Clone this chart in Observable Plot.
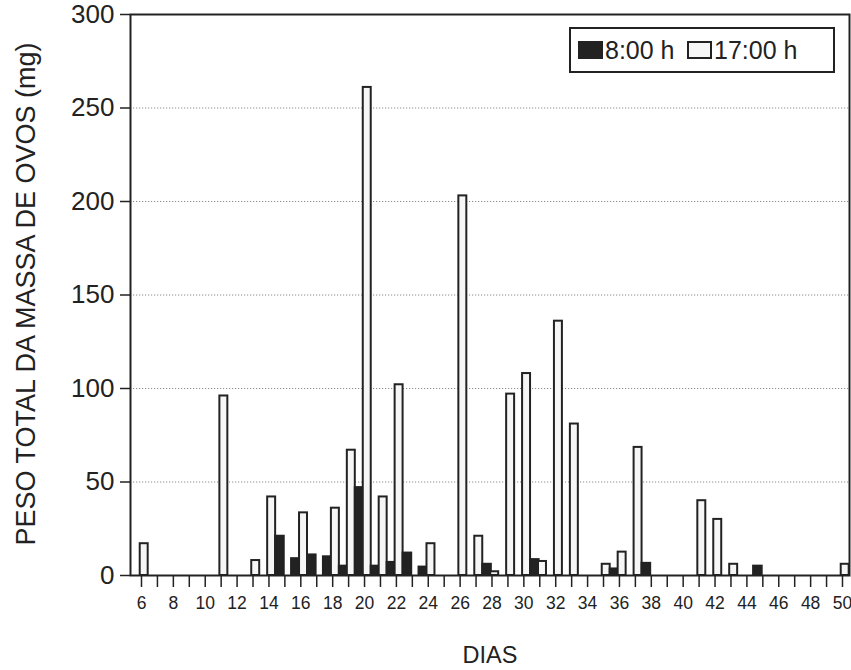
<!DOCTYPE html>
<html>
<head>
<meta charset="utf-8">
<script src="https://cdn.jsdelivr.net/npm/d3@7"></script>
<script src="https://cdn.jsdelivr.net/npm/@observablehq/plot@0.6"></script>
<style>
  html, body { margin: 0; padding: 0; background: #fff; }
  #wrap { position: relative; width: 851px; height: 670px; font-family: "Liberation Sans", Arial, sans-serif; color: #222; }
  #legend { position: absolute; left: 569px; top: 27px; width: 266px; height: 46px; border: 2px solid #222; box-sizing: border-box; background: #fff; }
  .sw { position: absolute; top: 12px; width: 25px; height: 18px; box-sizing: border-box; border: 2px solid #222; }
  .lt { position: absolute; top: 9px; font-size: 25px; line-height: 24px; white-space: nowrap; }
</style>
</head>
<body>
<div id="wrap">
  <div id="chart"></div>
  <div id="legend">
    <div class="sw" style="left:7px;background:#222;"></div>
    <div class="lt" style="left:34px;">8:00 h</div>
    <div class="sw" style="left:116px;background:#f6f6f6;"></div>
    <div class="lt" style="left:143px;">17:00 h</div>
  </div>
</div>
<script>
const days = [6,7,8,9,10,11,12,13,14,15,16,17,18,19,20,21,22,23,24,25,26,27,28,29,30,31,32,33,34,35,36,37,38,39,40,41,42,43,44,45,46,47,48,49,50];
const morning = [0,0,0,0,0,0,0,0,0,21,9,11,10,5,47,5,7,12,4.5,0,0,0,6,0,0,8.5,0,0,0,0,3.5,0,6.5,0,0,0,0,0,0,5,0,0,0,0,0];
const evening = [17,0,0,0,0,96,0,8,42,0,33.5,0,36,67,261,42,102,0,17,0,203,21,2,97,108,7.5,136,81,0,6,12.5,68.5,0,0,0,40,30,6,0,0,0,0,0,0,6];
const yTicks = [0,50,100,150,200,250,300];
const gridTicks = [50,100,150,200,250];
const xLabel = "DIAS";
const yLabel = "PESO TOTAL DA MASSA DE OVOS (mg)";

const bars = [];
days.forEach((d, i) => {
  if (morning[i] > 0) bars.push({day: d, series: "8:00 h", value: morning[i], x1: d - 0.58, x2: d - 0.04});
  if (evening[i] > 0) bars.push({day: d, series: "17:00 h", value: evening[i], x1: d - 0.08, x2: d + 0.42});
});

const ink = "#222";
const chart = Plot.plot({
  width: 851,
  height: 670,
  marginLeft: 130,
  marginRight: 2,
  marginTop: 14,
  marginBottom: 95,
  style: {fontFamily: "'Liberation Sans', Arial, sans-serif", color: ink, background: "#fff"},
  x: {type: "linear", domain: [5.31, 50.44]},
  y: {domain: [0, 300]},
  color: {domain: ["8:00 h", "17:00 h"], range: [ink, "#f6f6f6"]},
  marks: [
    Plot.gridY(gridTicks, {stroke: "#8a8a8a", strokeOpacity: 1, strokeWidth: 1, strokeDasharray: "1.2,1.8"}),
    Plot.rect(bars, {x1: "x1", x2: "x2", y1: 0, y2: "value", fill: "series", stroke: ink, strokeWidth: 2}),
    Plot.frame({stroke: ink, strokeWidth: 2}),
    Plot.axisY({ticks: yTicks, tickSize: 10, tickPadding: 6, fontSize: 26, label: null, stroke: ink, strokeWidth: 1.5}),
    Plot.axisX({ticks: days, tickSize: 12, tickPadding: 9, fontSize: 17.5, tickFormat: d => d % 2 === 0 ? String(d) : "", label: null, stroke: ink, strokeWidth: 1.5}),
    Plot.text([xLabel], {text: d => d, frameAnchor: "bottom", dy: 80, fontSize: 23.5, fill: ink, lineAnchor: "middle"}),
    Plot.text([yLabel], {text: d => d, frameAnchor: "left", dx: -104, dy: -1, rotate: -90, fontSize: 27, fill: ink, lineAnchor: "middle", textAnchor: "middle"})
  ]
});
document.getElementById("chart").appendChild(chart);
</script>
</body>
</html>
